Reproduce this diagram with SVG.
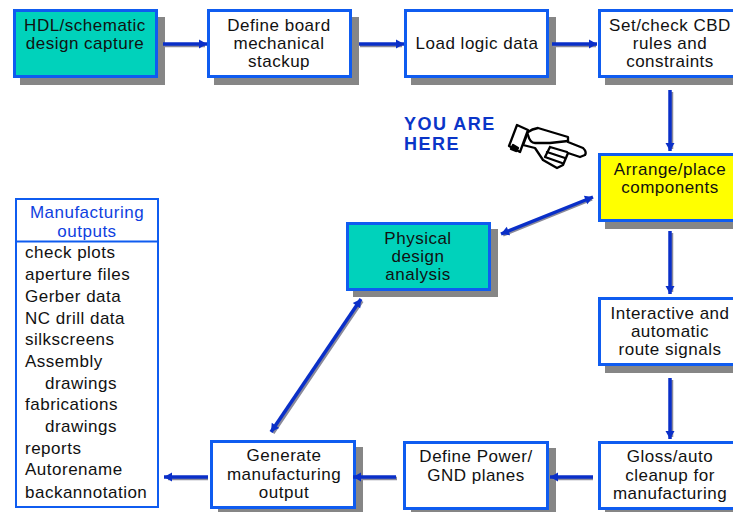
<svg xmlns="http://www.w3.org/2000/svg" width="733" height="512" viewBox="0 0 733 512">
<style>
.shadow{fill:#868686}
.box{fill:#fff;stroke:#0f5cf0;stroke-width:3}
.teal{fill:#00d2bb}
.yellow{fill:#ffff00}
text{font-family:"Liberation Sans",Arial,sans-serif;font-size:17px;letter-spacing:.5px;fill:#111;text-anchor:middle}
.list text{text-anchor:start}
.here{font-weight:bold;font-size:18px;letter-spacing:1.5px;fill:#0a35c8;text-anchor:start}
.conn{stroke:#0a2fc8;stroke-width:3.500;fill:none}
.connshadow{stroke:#8a8a9a;stroke-width:3.500;fill:none}
.hand{fill:#fff;stroke:#000;stroke-width:2.300;stroke-linejoin:round;stroke-linecap:round}
</style>
<defs>
<marker id="a" markerUnits="userSpaceOnUse" markerWidth="12" markerHeight="12" refX="9" refY="6" orient="auto-start-reverse"><path d="M1 1.500L9 6L1 10.500z" fill="#0a2fc8"/></marker>
</defs>
<g id="hdl"><rect class="shadow" x="20" y="17" width="145" height="68"/><rect class="box teal" x="14.500" y="10.500" width="142" height="66"/><text x="85" y="31">HDL/schematic</text><text x="85" y="49">design capture</text></g>
<g id="stackup"><rect class="shadow" x="214" y="17" width="145" height="68"/><rect class="box" x="208.500" y="10.500" width="142" height="66"/><text x="279" y="31">Define board</text><text x="279" y="49">mechanical</text><text x="279" y="67">stackup</text></g>
<g id="logic"><rect class="shadow" x="411" y="17" width="145" height="68"/><rect class="box" x="405.500" y="10.500" width="142" height="66"/><text x="477" y="49">Load logic data</text></g>
<g id="cbd"><rect class="shadow" x="605" y="17" width="145" height="68"/><rect class="box" x="599.500" y="10.500" width="142" height="66"/><text x="670" y="31">Set/check CBD</text><text x="670" y="49">rules and</text><text x="670" y="67">constraints</text></g>
<g id="here"><text x="404" y="130" class="here">YOU ARE</text><text x="404" y="150" class="here">HERE</text>
<g class="hand"><path d="M528 132Q532 129 538 128L568 137L568 142L583 148Q587 152 585 155L580 157L568 153L563 165L557 168L543 160L535 148L523 145z"/><path d="M517 125L528 130L520 152L509 146z"/><path d="M513 145L518 148L516 151L511 149z" style="fill:#000"/><path d="M528 135Q530 143 535 143L550 143L568 141M550 147L567 152M547 152L565 158M545 157L562 163M550 147L545 157" style="fill:none"/></g></g>
<g id="place"><rect class="shadow" x="605" y="161" width="145" height="68"/><rect class="box yellow" x="599.500" y="154.500" width="142" height="66"/><text x="670" y="175">Arrange/place</text><text x="670" y="193">components</text></g>
<g id="analysis"><rect class="shadow" x="353" y="229" width="145" height="68"/><rect class="box teal" x="347.500" y="223.500" width="142" height="66"/><text x="418" y="244">Physical</text><text x="418" y="262">design</text><text x="418" y="280">analysis</text></g>
<g id="route"><rect class="shadow" x="605" y="305" width="145" height="68"/><rect class="box" x="599.500" y="298.500" width="142" height="66"/><text x="670" y="319">Interactive and</text><text x="670" y="337">automatic</text><text x="670" y="355">route signals</text></g>
<g id="cleanup"><rect class="shadow" x="605" y="448" width="145" height="68"/><rect class="box" x="599.500" y="442.500" width="142" height="66"/><text x="670" y="462">Gloss/auto</text><text x="670" y="481">cleanup for</text><text x="670" y="499">manufacturing</text></g>
<g id="planes"><rect class="shadow" x="411" y="448" width="145" height="68"/><rect class="box" x="404.500" y="442.500" width="143" height="66"/><text x="476" y="462">Define Power/</text><text x="476" y="481">GND planes</text></g>
<g id="generate"><rect class="shadow" x="218" y="447" width="145" height="68"/><rect class="box" x="211.500" y="441.500" width="143" height="66"/><text x="284" y="461">Generate</text><text x="284" y="480">manufacturing</text><text x="284" y="498">output</text></g>
<g id="outputs"><rect x="16" y="199" width="142" height="308" style="fill:#fff;stroke:#0f5cf0;stroke-width:2"/><path d="M15 241.500H158" style="stroke:#0f5cf0;stroke-width:2"/>
<text x="87" y="218" style="fill:#0f3fe0">Manufacturing</text><text x="87" y="237" style="fill:#0f3fe0">outputs</text>
<g class="list"><text x="25" y="258">check plots</text><text x="25" y="280">aperture files</text><text x="25" y="302">Gerber data</text><text x="25" y="324">NC drill data</text><text x="25" y="345">silkscreens</text><text x="25" y="367">Assembly</text><text x="45" y="389">drawings</text><text x="25" y="410">fabrications</text><text x="45" y="432">drawings</text><text x="25" y="454">reports</text><text x="25" y="475">Autorename</text><text x="25" y="498">backannotation</text></g></g>
<g id="connectors">
<path class="connshadow" d="M164 45.500H205M360 45.500H402M553 45.500H596M671.500 92V149M671.500 233V292M671.500 380V437M593 478.500H553M397 478.500H357M208 478.500H168M273 433L362 301M503 235L592 199"/>
<path class="conn" marker-end="url(#a)" d="M163 44H207"/>
<path class="conn" marker-end="url(#a)" d="M359 44H404"/>
<path class="conn" marker-end="url(#a)" d="M552 44H597"/>
<path class="conn" marker-end="url(#a)" d="M670 90V151"/>
<path class="conn" marker-start="url(#a)" marker-end="url(#a)" d="M501 234L593 197"/>
<path class="conn" marker-end="url(#a)" d="M670 231V294"/>
<path class="conn" marker-end="url(#a)" d="M670 378V439"/>
<path class="conn" marker-end="url(#a)" d="M593 477H550"/>
<path class="conn" marker-end="url(#a)" d="M396 477H353"/>
<path class="conn" marker-end="url(#a)" d="M208 477H164"/>
<path class="conn" marker-start="url(#a)" marker-end="url(#a)" d="M271 432L361 299"/>
</g>
</svg>
